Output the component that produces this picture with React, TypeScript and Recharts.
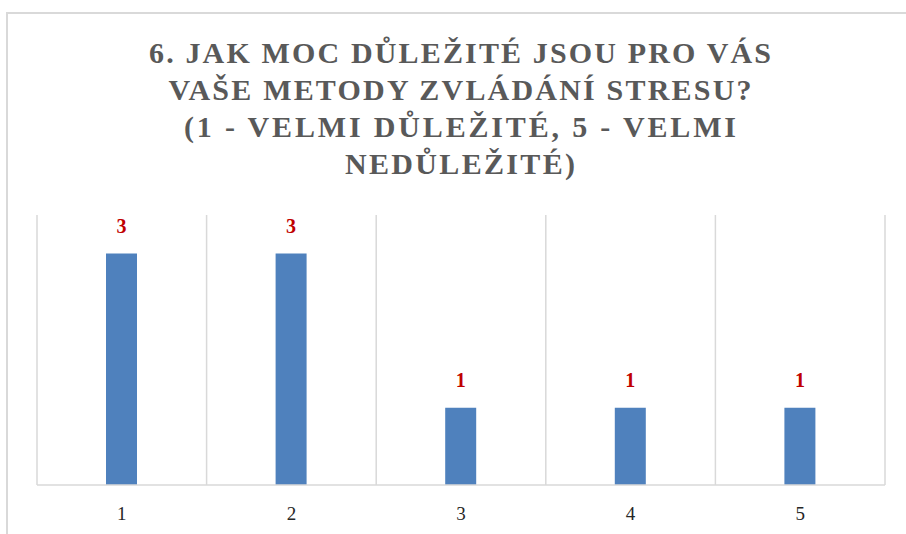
import { Bar, BarChart, CartesianGrid, LabelList, XAxis, YAxis } from "recharts";

const categories = ["1", "2", "3", "4", "5"];
const counts = [3, 3, 1, 1, 1];
const titleLines = [
  "6. JAK MOC DŮLEŽITÉ JSOU PRO VÁS",
  "VAŠE METODY ZVLÁDÁNÍ STRESU?",
  "(1 - VELMI DŮLEŽITÉ, 5 - VELMI",
  "NEDŮLEŽITÉ)"
];
// measured width of each title line in the reference
const titleWidths = [622, 583, 552, 230];

const data = categories.map((name, i) => ({ name, value: counts[i] }));

const W = 906;
const H = 534;
const margin = { top: 215, right: 21, bottom: 19, left: 37 };

export default function App() {
  return (
    <div style={{ position: "absolute", left: 0, top: 0, width: W, height: H, overflow: "hidden", background: "#fff" }}>
      <div style={{ position: "absolute", left: 6, top: 12, width: W + 10, height: H + 10, border: "2px solid #D9D9D9", boxSizing: "border-box" }} />
      <svg width={W} height={200} style={{ position: "absolute", left: 0, top: 0 }}>
        {titleLines.map((line, i) => (
          <text
            key={line}
            x={460}
            y={63 + i * 37}
            textAnchor="middle"
            textLength={titleWidths[i]}
            lengthAdjust="spacing"
            fontFamily="'Liberation Serif', serif"
            fontWeight="bold"
            fontSize={30}
            fill="#595959"
          >
            {line}
          </text>
        ))}
      </svg>
      <div style={{ position: "absolute", left: 0, top: 0 }}>
        <BarChart width={W} height={H} data={data} margin={margin}>
          <CartesianGrid
            horizontal={false}
            stroke="#D9D9D9"
            strokeWidth={1.5}
            verticalCoordinatesGenerator={({ offset }: any) =>
              categories.map((_, i) => offset.left + (i * offset.width) / categories.length).concat(offset.left + offset.width)
            }
          />
          <XAxis
            dataKey="name"
            height={30}
            tickLine={false}
            axisLine={{ stroke: "#D9D9D9", strokeWidth: 1.5 }}
            tickMargin={16}
            tick={{ fill: "#262626", fontSize: 19, fontFamily: "'Liberation Serif', serif" }}
          />
          <YAxis hide domain={[0, 3.5]} />
          <Bar dataKey="value" fill="#4F81BD" barSize={31} isAnimationActive={false}>
            <LabelList
              dataKey="value"
              position="top"
              offset={21}
              fill="#C00000"
              fontWeight="bold"
              fontSize={20}
              fontFamily="'Liberation Serif', serif"
            />
          </Bar>
        </BarChart>
      </div>
    </div>
  );
}
